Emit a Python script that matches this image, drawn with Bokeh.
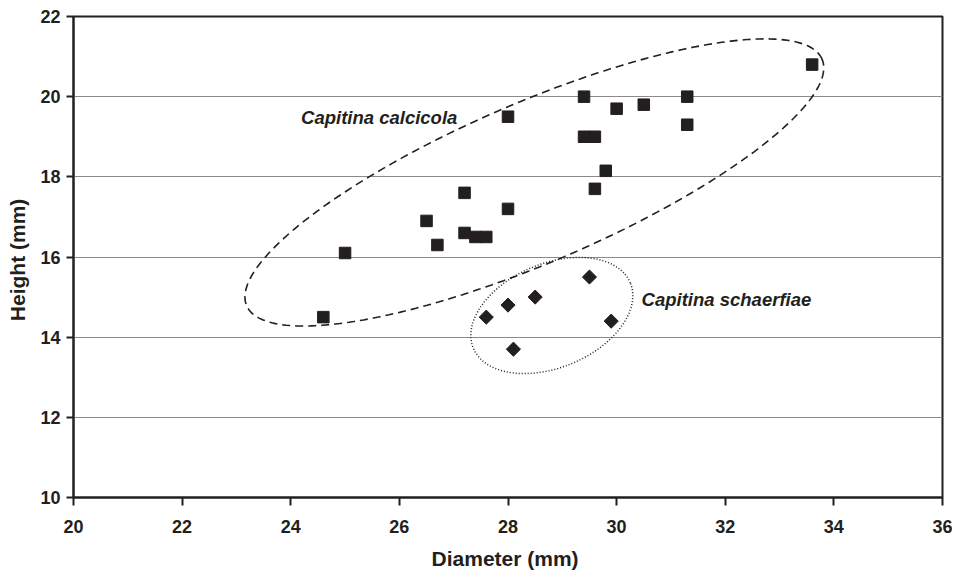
import numpy as np
from bokeh.plotting import figure
from bokeh.models import FixedTicker, Range1d
from bokeh.core.properties import value
from bokeh.embed import file_html
from bokeh.resources import INLINE

# Capitina calcicola (squares)
calc_diameter = [24.6, 25.0, 26.5, 26.7, 27.2, 27.2, 27.4, 27.6, 28.0, 28.0,
                 29.4, 29.4, 29.6, 29.6, 29.8, 30.0, 30.5, 31.3, 31.3, 33.6]
calc_height = [14.5, 16.1, 16.9, 16.3, 17.6, 16.6, 16.5, 16.5, 19.5, 17.2,
               20.0, 19.0, 19.0, 17.7, 18.15, 19.7, 19.8, 20.0, 19.3, 20.8]

# Capitina schaerfiae (diamonds)
sch_diameter = [27.6, 28.0, 28.1, 28.5, 29.5, 29.9]
sch_height = [14.5, 14.8, 13.7, 15.0, 15.5, 14.4]

x_ticks = [20, 22, 24, 26, 28, 30, 32, 34, 36]
y_ticks = [10, 12, 14, 16, 18, 20, 22]

INK = "#231f20"
FONT = "Liberation Sans"

FW, FH = 869, 481
x0, x1, y0, y1 = 20, 36, 10, 22
sx = FW / (x1 - x0)
sy = FH / (y1 - y0)

p = figure(frame_width=FW, frame_height=FH, output_backend="svg", toolbar_location=None,
           x_range=Range1d(x0, x1), y_range=Range1d(y0, y1),
           min_border_left=73, min_border_top=16, min_border_right=10, min_border_bottom=74)
p.background_fill_color = "white"
p.border_fill_color = "white"
p.outline_line_color = INK
p.outline_line_width = 2

p.xgrid.visible = False
p.ygrid.ticker = FixedTicker(ticks=y_ticks)
p.ygrid.grid_line_color = "#8a8a8a"
p.ygrid.grid_line_width = 1

p.xaxis.ticker = FixedTicker(ticks=x_ticks)
p.yaxis.ticker = FixedTicker(ticks=y_ticks)
for ax in (p.xaxis, p.yaxis):
    ax.axis_line_color = INK
    ax.axis_line_width = 2
    ax.major_tick_line_color = INK
    ax.major_tick_line_width = 2
    ax.major_tick_in = 0
    ax.minor_tick_line_color = None
    ax.major_label_text_font = FONT
    ax.major_label_text_font_style = "bold"
    ax.major_label_text_font_size = "18px"
    ax.major_label_text_color = INK
    ax.axis_label_text_font = FONT
    ax.axis_label_text_font_style = "bold"
    ax.axis_label_text_font_size = "21px"
    ax.axis_label_text_color = INK
p.xaxis.major_tick_out = 8
p.yaxis.major_tick_out = 7
p.xaxis.major_label_standoff = 14
p.yaxis.major_label_standoff = 6
p.xaxis.axis_label = "Diameter  (mm)"
p.yaxis.axis_label = "Height  (mm)"
p.xaxis.axis_label_standoff = 11
p.yaxis.axis_label_standoff = 8


def ellipse_curve(cx, cy, a_px, b_px, ang_deg, n=300):
    t = np.linspace(0, 2 * np.pi, n)
    th = np.radians(ang_deg)
    ex, ey = a_px * np.cos(t), b_px * np.sin(t)
    X = ex * np.cos(th) - ey * np.sin(th)
    Y = ex * np.sin(th) + ey * np.cos(th)
    return cx + X / sx, cy + Y / sy


bx, by = ellipse_curve(28.485, 17.86, 313, 80, 23.2)
p.line(bx, by, line_color=INK, line_width=1.6, line_dash="8 5")
ex_, ey_ = ellipse_curve(28.807, 14.54, 85, 52, 22.6)
p.line(ex_, ey_, line_color=INK, line_width=1.5, line_dash="1 2")

p.scatter(calc_diameter, calc_height, marker="square", size=11.5, fill_color=INK, line_color=INK)
p.scatter(sch_diameter, sch_height, marker="square", size=10, angle=np.pi / 4,
          fill_color=INK, line_color=INK)

p.text(x=[24.19], y=[19.48], text=["Capitina calcicola"], text_font=value(FONT),
       text_font_style="bold italic", text_font_size="18.5px", text_color=INK,
       text_align="left", text_baseline="middle")
p.text(x=[30.46], y=[14.94], text=["Capitina schaerfiae"], text_font=value(FONT),
       text_font_style="bold italic", text_font_size="18.5px", text_color=INK,
       text_align="left", text_baseline="middle")

open("out.html", "w").write(file_html(p, INLINE))
